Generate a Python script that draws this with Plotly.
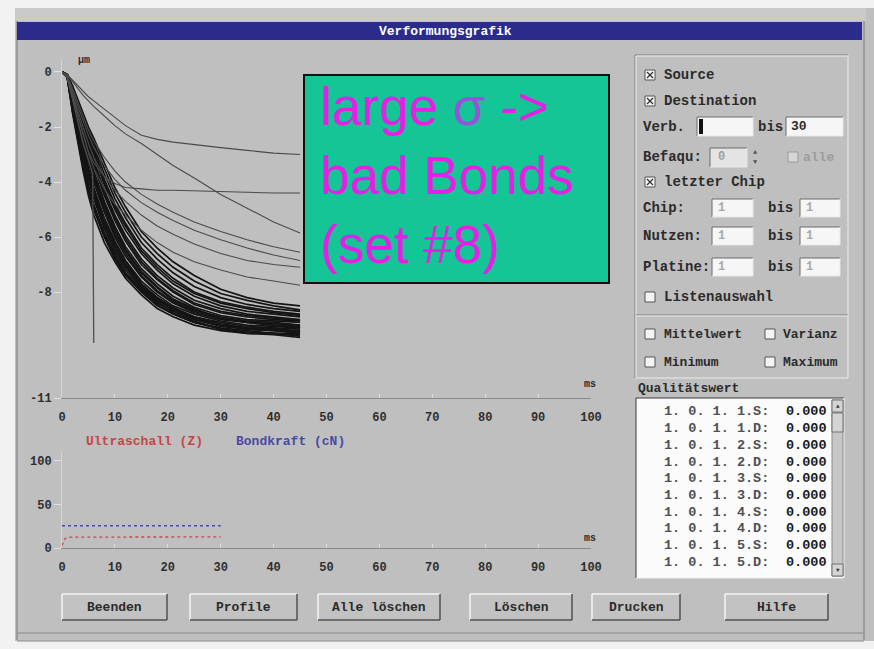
import plotly.graph_objects as go

W, H = 874, 649


def X(px):
    return px / W


def Y(py):
    return 1 - py / H


# ------------------------------------------------------------------ data
t_ms = [0, 1, 2, 3, 4, 5, 6, 8, 10, 12, 15, 18, 21, 25, 30, 35, 40, 45]

# main band of deformation curves (um)
b01 = [0, -0.2, -1.5, -2.6, -3.6, -4.5, -5.2, -6.2, -6.9, -7.5, -8.1, -8.6, -8.9, -9.2, -9.4, -9.5, -9.5, -9.6]
b02 = [0, -0.2, -1.4, -2.5, -3.5, -4.3, -5.0, -6.0, -6.8, -7.4, -8.0, -8.5, -8.8, -9.1, -9.3, -9.4, -9.5, -9.5]
b03 = [0, -0.2, -1.3, -2.3, -3.3, -4.1, -4.8, -5.9, -6.7, -7.3, -7.9, -8.4, -8.7, -9.0, -9.25, -9.35, -9.4, -9.45]
b04 = [0, -0.15, -1.2, -2.2, -3.1, -3.9, -4.6, -5.7, -6.5, -7.1, -7.8, -8.3, -8.65, -8.95, -9.2, -9.3, -9.35, -9.4]
b05 = [0, -0.15, -1.1, -2.0, -2.9, -3.7, -4.4, -5.5, -6.3, -7.0, -7.7, -8.2, -8.55, -8.9, -9.1, -9.25, -9.3, -9.35]
b06 = [0, -0.15, -1.0, -1.9, -2.7, -3.5, -4.2, -5.3, -6.15, -6.85, -7.6, -8.1, -8.5, -8.8, -9.05, -9.2, -9.25, -9.3]
b07 = [0, -0.1, -0.9, -1.8, -2.6, -3.3, -4.0, -5.1, -6.0, -6.7, -7.45, -8.0, -8.4, -8.75, -9.0, -9.1, -9.2, -9.25]
b08 = [0, -0.1, -0.9, -1.7, -2.4, -3.1, -3.8, -4.9, -5.8, -6.5, -7.3, -7.85, -8.3, -8.65, -8.9, -9.05, -9.1, -9.2]
b09 = [0, -0.1, -0.8, -1.6, -2.3, -3.0, -3.6, -4.7, -5.6, -6.35, -7.15, -7.7, -8.15, -8.55, -8.85, -9.0, -9.05, -9.1]
b10 = [0, -0.1, -0.8, -1.5, -2.2, -2.8, -3.4, -4.5, -5.4, -6.15, -7.0, -7.55, -8.0, -8.45, -8.75, -8.9, -9.0, -9.05]
b11 = [0, -0.1, -0.7, -1.4, -2.0, -2.6, -3.2, -4.3, -5.2, -5.95, -6.8, -7.4, -7.85, -8.3, -8.6, -8.8, -8.9, -9.0]
b12 = [0, -0.1, -0.7, -1.3, -1.9, -2.5, -3.0, -4.1, -5.0, -5.75, -6.6, -7.2, -7.7, -8.15, -8.5, -8.7, -8.8, -8.9]
b13 = [0, -0.1, -0.6, -1.2, -1.8, -2.3, -2.8, -3.9, -4.8, -5.5, -6.4, -7.0, -7.5, -8.0, -8.35, -8.55, -8.7, -8.8]
b14 = [0, -0.1, -0.6, -1.1, -1.7, -2.2, -2.7, -3.7, -4.6, -5.3, -6.2, -6.8, -7.3, -7.8, -8.2, -8.45, -8.6, -8.7]
b15 = [0, -0.1, -0.55, -1.05, -1.6, -2.1, -2.55, -3.5, -4.4, -5.1, -6.0, -6.6, -7.1, -7.6, -8.05, -8.3, -8.5, -8.65]
b16 = [0, -0.1, -0.5, -1.0, -1.5, -2.0, -2.4, -3.3, -4.2, -4.9, -5.8, -6.4, -6.9, -7.4, -7.9, -8.2, -8.4, -8.5]
b17 = [0, -0.2, -1.45, -2.45, -3.4, -4.2, -4.9, -5.85, -6.6, -7.2, -7.85, -8.35, -8.75, -9.05, -9.35, -9.45, -9.5, -9.55]
b18 = [0, -0.15, -1.05, -1.95, -2.8, -3.6, -4.3, -5.4, -6.2, -6.9, -7.7, -8.2, -8.6, -8.95, -9.2, -9.35, -9.4, -9.5]
b19 = [0, -0.1, -0.85, -1.65, -2.35, -3.05, -3.7, -4.8, -5.7, -6.45, -7.25, -7.8, -8.25, -8.6, -8.95, -9.1, -9.2, -9.3]
b20 = [0, -0.1, -0.75, -1.45, -2.1, -2.7, -3.3, -4.4, -5.3, -6.05, -6.9, -7.5, -7.95, -8.4, -8.7, -8.85, -8.95, -9.05]
b21 = [0, -0.2, -1.35, -2.4, -3.4, -4.2, -4.9, -5.95, -6.75, -7.35, -7.95, -8.45, -8.8, -9.1, -9.35, -9.5, -9.55, -9.65]
b22 = [0, -0.15, -1.15, -2.1, -3.0, -3.8, -4.5, -5.6, -6.4, -7.05, -7.75, -8.25, -8.6, -8.9, -9.15, -9.3, -9.35, -9.45]
b23 = [0, -0.1, -0.95, -1.75, -2.5, -3.2, -3.9, -5.0, -5.9, -6.6, -7.4, -7.95, -8.35, -8.7, -8.95, -9.1, -9.15, -9.2]
b24 = [0, -0.1, -0.65, -1.25, -1.85, -2.4, -2.9, -4.0, -4.9, -5.6, -6.5, -7.1, -7.6, -8.05, -8.4, -8.6, -8.75, -8.85]

# outlier curves (the "bad bonds")
o1 = [0, -0.1, -0.3, -0.5, -0.7, -0.9, -1.05, -1.35, -1.65, -1.95, -2.3, -2.45, -2.55, -2.65, -2.75, -2.85, -2.95, -3.0]
o2 = [0, -0.1, -0.35, -0.6, -0.85, -1.05, -1.25, -1.6, -1.95, -2.25, -2.6, -3.0, -3.4, -3.85, -4.45, -4.95, -5.45, -5.85]
o3 = [0, -0.2, -0.9, -1.6, -2.3, -2.9, -3.3, -3.8, -4.05, -4.2, -4.25, -4.3, -4.3, -4.32, -4.35, -4.38, -4.4, -4.4]
o4 = [0, -0.15, -0.6, -1.1, -1.6, -2.1, -2.5, -3.1, -3.6, -4.0, -4.45, -4.8, -5.1, -5.45, -5.8, -6.1, -6.35, -6.55]
o5 = [0, -0.15, -0.7, -1.25, -1.8, -2.3, -2.75, -3.4, -3.9, -4.3, -4.75, -5.1, -5.4, -5.75, -6.1, -6.4, -6.65, -6.85]
o6 = [0, -0.15, -0.8, -1.4, -2.0, -2.6, -3.1, -3.8, -4.3, -4.7, -5.2, -5.6, -5.9, -6.25, -6.6, -6.85, -7.0, -7.1]
o7 = [0, -0.15, -0.9, -1.6, -2.3, -2.95, -3.5, -4.25, -4.8, -5.2, -5.75, -6.2, -6.55, -6.9, -7.2, -7.45, -7.6, -7.75]
steep_t = [0, 1, 2, 3, 4, 5, 5.8, 6.0]
steep_y = [0, -0.2, -1.0, -1.8, -2.6, -3.2, -3.7, -9.85]

# lower chart: ultrasonic (Z) and bond force (cN)
us_t = [0, 0.6, 1.5, 5, 10, 15, 20, 25, 30]
us_v = [3, 11, 12.5, 12.6, 12.8, 12.6, 12.8, 12.6, 12.7]
bk_t = [0, 5, 10, 15, 20, 25, 30]
bk_v = [25.5, 25.5, 25.5, 25.5, 25.5, 25.5, 25.5]

x_ticks = [0, 10, 20, 30, 40, 50, 60, 70, 80, 90, 100]
top_y_ticks = [0, -2, -4, -6, -8, -11.85]
top_y_labels = ["0", "-2", "-4", "-6", "-8", "-11"]
bot_y_ticks = [0, 50, 100]

quality_ids = ["1.S", "1.D", "2.S", "2.D", "3.S", "3.D", "4.S", "4.D", "5.S", "5.D"]
quality_vals = ["0.000", "0.000", "0.000", "0.000", "0.000", "0.000", "0.000", "0.000", "0.000", "0.000"]

button_labels = ["Beenden", "Profile", "Alle löschen", "Löschen", "Drucken", "Hilfe"]

# ------------------------------------------------------------------ styling
BG = "#bfbfbf"
MONO = "Liberation Mono"
TXT = "#2b2b2b"

fig = go.Figure()

band = [b01, b02, b03, b04, b05, b06, b07, b08, b09, b10, b11, b12,
        b13, b14, b15, b16, b17, b18, b19, b20, b21, b22, b23, b24]
for b in band:
    fig.add_trace(go.Scatter(x=t_ms, y=b, mode="lines", xaxis="x", yaxis="y",
                             line=dict(color="#141414", width=1.7),
                             hoverinfo="skip", showlegend=False))
for o in [o1, o2, o3, o4, o5, o6, o7]:
    fig.add_trace(go.Scatter(x=t_ms, y=o, mode="lines", xaxis="x", yaxis="y",
                             line=dict(color="#4a4a4a", width=1.1),
                             hoverinfo="skip", showlegend=False))
fig.add_trace(go.Scatter(x=steep_t, y=steep_y, mode="lines", xaxis="x", yaxis="y",
                         line=dict(color="#505050", width=1.3),
                         hoverinfo="skip", showlegend=False))

fig.add_trace(go.Scatter(x=bk_t, y=bk_v, mode="lines", xaxis="x2", yaxis="y2",
                         line=dict(color="#4a4aa8", width=1.5, dash="dot"),
                         hoverinfo="skip", showlegend=False))
fig.add_trace(go.Scatter(x=us_t, y=us_v, mode="lines", xaxis="x2", yaxis="y2",
                         line=dict(color="#c84a4a", width=1.3, dash="dot"),
                         hoverinfo="skip", showlegend=False))

shapes = []
annos = []


def rect(x0, y0, x1, y1, fill="rgba(0,0,0,0)", line="rgba(0,0,0,0)", lw=1, layer="below"):
    shapes.append(dict(type="rect", xref="paper", yref="paper",
                       x0=X(x0), x1=X(x1), y0=Y(y1), y1=Y(y0),
                       fillcolor=fill, line=dict(color=line, width=lw), layer=layer))


def line(x0, y0, x1, y1, color, lw=1, layer="below"):
    shapes.append(dict(type="line", xref="paper", yref="paper",
                       x0=X(x0), x1=X(x1), y0=Y(y0), y1=Y(y1),
                       line=dict(color=color, width=lw), layer=layer))


def text(px, py, s, size=14, color=TXT, anchor="left", family=MONO, bold=True):
    annos.append(dict(x=X(px), y=Y(py), xref="paper", yref="paper", text=s,
                      showarrow=False, xanchor=anchor, yanchor="middle",
                      font=dict(family=family, size=size, color=color,
                                weight="bold" if bold else "normal")))


def checkbox(px, py, checked=False, disabled=False):
    rect(px, py - 5, px + 10, py + 5, fill="#f4f4f4" if not disabled else "#d6d6d6",
         line="#555555" if not disabled else "#9a9a9a")
    if checked:
        line(px + 2, py - 3, px + 8, py + 3, "#333333", 1.3)
        line(px + 2, py + 3, px + 8, py - 3, "#333333", 1.3)


def inputbox(x0, y0, x1, y1, fill="#f6f6f6"):
    rect(x0, y0, x1, y1, fill=fill)
    line(x0, y0, x1, y0, "#6a6a6a")
    line(x0, y0, x0, y1, "#6a6a6a")
    line(x0, y1, x1, y1, "#e8e8e8")
    line(x1, y0, x1, y1, "#e8e8e8")


# outer page / window chrome
rect(0, 0, 874, 8, fill="#f2f2f2")
rect(0, 0, 15, 649, fill="#f2f2f2")
rect(0, 641, 874, 649, fill="#f2f2f2")
rect(15, 8, 866, 21, fill="#cacaca")
line(17, 21, 17, 640, "#7a7a7a")
line(864, 21, 864, 640, "#7a7a7a")
rect(17, 22, 862, 40, fill="#2b2b8c")
text(445, 31, "Verformungsgrafik", size=13, color="#ffffff", anchor="center")
line(17, 633, 864, 633, "#8a8a8a")
line(17, 641, 864, 641, "#8a8a8a")

# green annotation box
rect(304, 75, 609, 283, fill="#15c596", line="#101010", lw=2, layer="above")
annos.append(dict(x=X(318), y=Y(176), xref="paper", yref="paper",
                  text="large <span style='color:#9a50dc'>σ</span> -&gt;<br>bad Bonds<br>(set #8)",
                  showarrow=False, xanchor="left", yanchor="middle", align="left",
                  font=dict(family="Liberation Sans", size=53, color="#e61ee6")))

# axis unit labels and legend texts
text(76, 61, "µm", size=10)
text(590, 384, "ms", size=10, anchor="center")
text(590, 538, "ms", size=10, anchor="center")
text(84, 441, "Ultraschall (Z)", size=13, color="#c84444")
text(234, 441, "Bondkraft (cN)", size=13, color="#4848a6")

# right control panel
line(635, 55, 848, 55, "#7c7c7c")
line(635, 55, 635, 378, "#7c7c7c")
line(636, 56, 847, 56, "#ececec")
line(636, 56, 636, 377, "#ececec")
line(635, 378, 848, 378, "#ececec")
line(848, 55, 848, 378, "#ececec")
line(636, 315, 848, 315, "#7c7c7c")
line(636, 316, 848, 316, "#ececec")

checkbox(645, 75, checked=True)
text(662, 75, "Source")
checkbox(645, 101, checked=True)
text(662, 101, "Destination")
text(641, 127, "Verb.")
inputbox(697, 117, 753, 136)
rect(699, 119, 703, 134, fill="#111111")
text(756, 127, "bis")
inputbox(786, 117, 843, 136)
text(789, 127, "30", size=13)
text(641, 157, "Befaqu:")
inputbox(710, 148, 747, 167, fill="#e4e4e4")
text(716, 157, "0", size=12, color="#a0a0a0")
text(755, 152, "▲", size=7, color="#555555", anchor="center", bold=False)
text(755, 162, "▼", size=7, color="#555555", anchor="center", bold=False)
checkbox(788, 157, disabled=True)
text(801, 157, "alle", size=13, color="#9c9c9c")
checkbox(645, 182, checked=True)
text(662, 182, "letzter Chip")
for lab, py in [("Chip:", 208), ("Nutzen:", 236), ("Platine:", 267)]:
    text(641, py, lab)
    inputbox(712, py - 9, 753, py + 9)
    text(716, py, "1", size=12, color="#a8a8a8")
    text(766, py, "bis")
    inputbox(800, py - 9, 840, py + 9)
    text(804, py, "1", size=12, color="#a8a8a8")
checkbox(645, 297)
text(662, 297, "Listenauswahl")
checkbox(645, 334)
text(662, 334, "Mittelwert", size=13)
checkbox(765, 334)
text(781, 334, "Varianz", size=13)
checkbox(645, 362)
text(662, 362, "Minimum", size=13)
checkbox(765, 362)
text(781, 362, "Maximum", size=13)

# quality list
text(636, 388, "Qualitätswert", size=13)
rect(636, 398, 844, 578, fill="#fbfbfb")
line(636, 398, 844, 398, "#3a3a3a")
line(636, 398, 636, 578, "#3a3a3a")
line(636, 578, 844, 578, "#eeeeee")
line(844, 398, 844, 578, "#eeeeee")
rect(832, 400, 843, 576, fill="#c6c6c6", line="#8a8a8a")
rect(832, 400, 843, 412, fill="#d4d4d4", line="#707070")
rect(832, 413, 843, 432, fill="#d4d4d4", line="#707070")
rect(832, 564, 843, 576, fill="#d4d4d4", line="#707070")
text(837.5, 406, "▲", size=6, color="#333333", anchor="center", bold=False)
text(837.5, 570, "▼", size=6, color="#333333", anchor="center", bold=False)
for i, (qid, qv) in enumerate(zip(quality_ids, quality_vals)):
    py = 412 + i * 16.7
    text(662, py, "1. 0. 1. " + qid + ":", size=13.5, color="#505050")
    text(784, py, qv, size=13.5, color="#1a1a1a")

# buttons
btn_x = [(62, 167), (190, 297), (318, 440), (470, 572), (592, 680), (725, 828)]
for lab, (x0, x1) in zip(button_labels, btn_x):
    rect(x0, 594, x1, 620, fill="#c2c2c2")
    line(x0, 594, x1, 594, "#f4f4f4", 1.5)
    line(x0, 594, x0, 620, "#f4f4f4", 1.5)
    line(x0, 620, x1, 620, "#505050", 1.5)
    line(x1, 594, x1, 620, "#505050", 1.5)
    text((x0 + x1) / 2, 607, lab, size=13, anchor="center")

tickfont = dict(family=MONO, size=12, color="#2e2e2e", weight="bold")

fig.update_layout(
    width=W, height=H,
    margin=dict(l=0, r=0, t=0, b=0, pad=0),
    paper_bgcolor=BG, plot_bgcolor="rgba(0,0,0,0)",
    showlegend=False,
    xaxis=dict(domain=[X(62), X(591)], range=[0, 100], anchor="y", automargin=False,
               tickvals=x_ticks, showline=True, linecolor="#8a8a8a", linewidth=1,
               showgrid=False, zeroline=False, ticks="inside", ticklen=4,
               tickcolor="#dcdcdc", tickfont=tickfont, ticklabelstandoff=8),
    yaxis=dict(domain=[Y(398), Y(60)], range=[-11.85, 0.436], anchor="x", automargin=False,
               tickvals=top_y_ticks, ticktext=top_y_labels,
               showline=True, linecolor="#d6d6d6", linewidth=1,
               showgrid=False, zeroline=False, ticks="outside", ticklen=7,
               tickcolor="#e2e2e2", tickfont=tickfont),
    xaxis2=dict(domain=[X(62), X(591)], range=[0, 100], anchor="y2", automargin=False,
                tickvals=x_ticks, showline=True, linecolor="#8a8a8a", linewidth=1,
                showgrid=False, zeroline=False, ticks="inside", ticklen=4,
                tickcolor="#dcdcdc", tickfont=tickfont, ticklabelstandoff=8),
    yaxis2=dict(domain=[Y(548), Y(452)], range=[0, 110], anchor="x2", automargin=False,
                tickvals=bot_y_ticks, showline=True, linecolor="#d6d6d6", linewidth=1,
                showgrid=False, zeroline=False, ticks="outside", ticklen=7,
                tickcolor="#e2e2e2", tickfont=tickfont),
    shapes=shapes,
    annotations=annos,
)

fig.write_html("out.html", config={"displayModeBar": False},
               post_script="document.documentElement.style.background='#f2f2f2';"
                           "document.body.style.margin='0';document.body.style.padding='0';"
                           "document.documentElement.style.overflow='hidden';")
